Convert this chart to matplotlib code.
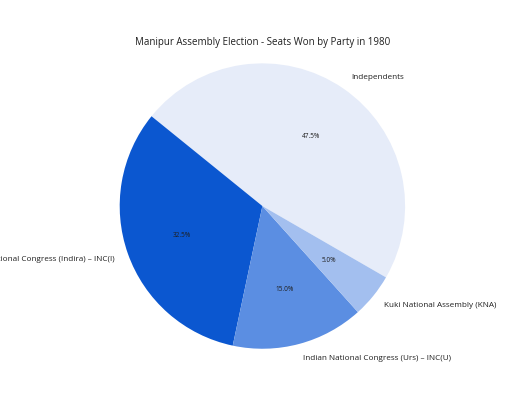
import matplotlib
matplotlib.use("Agg")
import matplotlib.pyplot as plt

# seats won, 1980 Manipur assembly election
parties = [
    "Independents",
    "Indian National Congress (Indira) – INC(I)",
    "Indian National Congress (Urs) – INC(U)",
    "Kuki National Assembly (KNA)",
]
seats = [19, 13, 6, 2]
colors = ["#e6ecf9", "#0b57d0", "#5b8ee2", "#a3bfef"]

plt.rcParams["font.family"] = ["Open Sans", "DejaVu Sans"]

fig, ax = plt.subplots(figsize=(5.12, 4.1), dpi=100)
wedges, texts, autotexts = ax.pie(
    seats,
    labels=parties,
    colors=colors,
    autopct="%1.1f%%",
    startangle=-30,
    radius=1.13,
    textprops={"fontsize": 5.9, "color": "#1f1f1f"},
)
for t in autotexts:
    t.set_fontsize(4.7)
ax.set_title("Manipur Assembly Election - Seats Won by Party in 1980",
             fontsize=7, color="#1f1f1f", pad=3)
ax.set_aspect("equal")

fig.savefig("out.png", dpi=100)
